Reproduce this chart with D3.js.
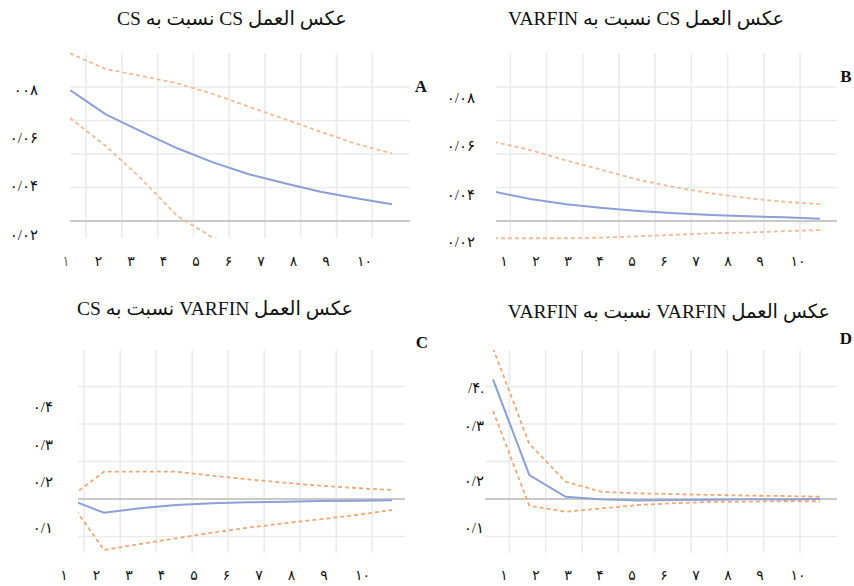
<!DOCTYPE html>
<html><head><meta charset="utf-8">
<script src="https://cdn.jsdelivr.net/npm/d3@7"></script>
<style>
html,body{margin:0;padding:0;background:#fff;}
svg{display:block;}
</style></head>
<body>
<svg id="chart" width="854" height="586"></svg>
<script>
// ---------- data ----------
const periods = [1,2,3,4,5,6,7,8,9,10];
const xTickLabels = ["۱","۲","۳","۴","۵","۶","۷","۸","۹","۱۰"];

const titleA = "عکس العمل CS نسبت به CS";
const titleB = "عکس العمل CS نسبت به VARFIN";
const titleC = "عکس العمل VARFIN نسبت به CS";
const titleD = "عکس العمل VARFIN نسبت به VARFIN";

const yLabelsA = ["۰۰۸","۰/۰۶","۰/۰۴","۰/۰۲"];
const yLabelsB = ["۰/۰۸","۰/۰۶","۰/۰۴","۰/۰۲"];
const yLabelsC = ["۰/۴","۰/۳","۰/۲","۰/۱"];
const yLabelsD = ["/۴.","۰/۳","۰/۲","۰/۱"];

// A: response of CS to CS
const csToCs      = [0.0782,0.0637,0.0533,0.0434,0.0350,0.0279,0.0225,0.0175,0.0136,0.0100];
const csToCsUpper = [0.1001,0.0907,0.0866,0.0822,0.0758,0.0682,0.0609,0.0533,0.0460,0.0404];
const csToCsLower = [0.0615,0.0448,0.0251,0.0030,-0.0100,-0.0150,-0.0190,-0.0210,-0.0220,-0.0230];
// B: response of CS to VARFIN
const csToVarfin      = [0.0175,0.0131,0.0100,0.0078,0.0060,0.0046,0.0036,0.0028,0.0022,0.0014];
const csToVarfinUpper = [0.0473,0.0424,0.0361,0.0304,0.0245,0.0201,0.0165,0.0136,0.0115,0.0101];
const csToVarfinLower = [-0.0103,-0.0103,-0.0103,-0.0099,-0.0091,-0.0082,-0.0073,-0.0069,-0.0061,-0.0054];
// C: response of VARFIN to CS
const varfinToCs      = [0,-0.0365,-0.0248,-0.0160,-0.0115,-0.0088,-0.0072,-0.0053,-0.0045,-0.0035];
const varfinToCsUpper = [0,0.0728,0.0728,0.0728,0.0621,0.0525,0.0435,0.0355,0.0293,0.0240];
const varfinToCsLower = [0,-0.136,-0.120,-0.1048,-0.0899,-0.0765,-0.0648,-0.0541,-0.0427,-0.0293];
// D: response of VARFIN to VARFIN
const varfinToVarfin      = [0.319,0.064,0.006,-0.001,-0.004,-0.003,-0.002,-0.001,-0.001,0.000];
const varfinToVarfinUpper = [0.402,0.147,0.046,0.019,0.015,0.013,0.011,0.009,0.008,0.006];
const varfinToVarfinLower = [0.235,-0.018,-0.034,-0.025,-0.016,-0.011,-0.008,-0.007,-0.006,-0.006];

const gridTop = [0.02,0.04,0.06,0.08];
const gridBottom = [-0.1,0.1,0.2,0.3];

// ---------- layout ----------
const panels = [
  {id:"A", title:titleA, irf:csToCs, up:csToCsUpper, lo:csToCsLower, yLabels:yLabelsA, grid:gridTop,
   plot:{x0:70,x1:410,y0:53,y1:238}, xr:[70,392], yd:[0,0.08], yr:[221,87],
   titleX:232, titleY:21, letterX:421, letterY:88,
   lx0:66, lstep:32.5, ly:263, ylPos:[92,140,188,237], ylX:38},
  {id:"B", title:titleB, irf:csToVarfin, up:csToVarfinUpper, lo:csToVarfinLower, yLabels:yLabelsB, grid:gridTop,
   plot:{x0:496,x1:837,y0:53,y1:240}, xr:[494,820], yd:[0,0.08], yr:[221,87],
   titleX:646, titleY:21, letterX:846, letterY:78,
   lx0:504, lstep:32, ly:263, ylPos:[100,148,197,244], ylX:475},
  {id:"C", title:titleC, irf:varfinToCs, up:varfinToCsUpper, lo:varfinToCsLower, yLabels:yLabelsC, grid:gridBottom,
   plot:{x0:78,x1:405,y0:350,y1:553}, xr:[68,392], yd:[0,0.3], yr:[499,386.5],
   titleX:215, titleY:311, letterX:422, letterY:344,
   lx0:64, lstep:32.5, ly:577, ylPos:[409,447,484,530], ylX:53},
  {id:"D", title:titleD, irf:varfinToVarfin, up:varfinToVarfinUpper, lo:varfinToVarfinLower, yLabels:yLabelsD, grid:gridBottom,
   plot:{x0:485,x1:837,y0:350,y1:553}, xr:[493,820], yd:[0,0.3], yr:[499,386.5],
   titleX:669, titleY:314, letterX:846, letterY:340,
   lx0:504, lstep:32, ly:577, ylPos:[390,428,483,530], ylX:484}
];

const svg = d3.select("#chart");
const serif = "'Liberation Serif','Times New Roman','DejaVu Serif','DejaVu Sans',serif";

panels.forEach((p, pi) => {
  const g = svg.append("g");
  const x = d3.scaleLinear().domain([1,10]).range(p.xr);
  const y = d3.scaleLinear().domain(p.yd).range(p.yr);

  const clipId = "clip" + p.id;
  svg.append("defs").append("clipPath").attr("id", clipId)
    .append("rect").attr("x", p.plot.x0).attr("y", p.plot.y0)
    .attr("width", p.plot.x1 - p.plot.x0).attr("height", p.plot.y1 - p.plot.y0);

  // vertical grid (between periods)
  g.selectAll(".vg").data(periods.slice(0,9)).enter().append("line")
    .attr("x1", d => x(d + 0.45)).attr("x2", d => x(d + 0.45))
    .attr("y1", p.plot.y0).attr("y2", p.plot.y1)
    .attr("stroke", "#ebebeb").attr("stroke-width", 1.6);
  // horizontal grid
  g.selectAll(".hg").data(p.grid).enter().append("line")
    .attr("x1", p.plot.x0).attr("x2", p.plot.x1)
    .attr("y1", d => y(d)).attr("y2", d => y(d))
    .attr("stroke", "#ebebeb").attr("stroke-width", 1.6);
  // zero line
  g.append("line").attr("x1", p.plot.x0).attr("x2", p.plot.x1)
    .attr("y1", y(0)).attr("y2", y(0))
    .attr("stroke", "#c9c9c9").attr("stroke-width", 2);

  const line = d3.line().x((d,i) => x(periods[i])).y(d => y(d));
  const lines = g.append("g").attr("clip-path", `url(#${clipId})`);
  [p.up, p.lo].forEach(s => {
    lines.append("path").attr("d", line(s)).attr("fill", "none")
      .attr("stroke", pi < 2 ? "#f2bb95" : "#efa876").attr("stroke-width", 1.8)
      .attr("stroke-dasharray", "4,3");
  });
  lines.append("path").attr("d", line(p.irf)).attr("fill", "none")
    .attr("stroke", "#8c9fd6").attr("stroke-width", 2);

  // title
  g.append("text").attr("x", p.titleX).attr("y", p.titleY)
    .attr("text-anchor", "middle").attr("dominant-baseline", "middle")
    .attr("direction", "rtl").attr("font-family", serif).attr("font-size", 19.5)
    .attr("fill", "#111").text(p.title);
  // panel letter
  g.append("text").attr("x", p.letterX).attr("y", p.letterY)
    .attr("text-anchor", "middle").attr("dominant-baseline", "middle")
    .attr("font-family", serif).attr("font-weight", "bold").attr("font-size", 17)
    .attr("fill", "#111").text(p.id);
  // y labels
  g.selectAll(".yl").data(p.yLabels).enter().append("text")
    .attr("x", p.ylX).attr("y", (d,i) => p.ylPos[i])
    .attr("text-anchor", "end").attr("dominant-baseline", "middle")
    .attr("direction", "ltr").attr("font-family", serif).attr("font-size", 15)
    .attr("fill", "#111").text(d => d);
  // x labels
  g.selectAll(".xl").data(xTickLabels).enter().append("text")
    .attr("x", (d,i) => p.lx0 + i * p.lstep + (i === 9 ? 6 : 0)).attr("y", p.ly)
    .attr("text-anchor", "middle").attr("dominant-baseline", "middle")
    .attr("font-family", serif).attr("font-size", 14)
    .attr("letter-spacing", (d,i) => i === 9 ? 8 : 0)
    .attr("fill", (d,i) => (p.id === "A" && i === 0) ? "#777" : "#111")
    .text(d => d);
});
</script>
</body></html>
